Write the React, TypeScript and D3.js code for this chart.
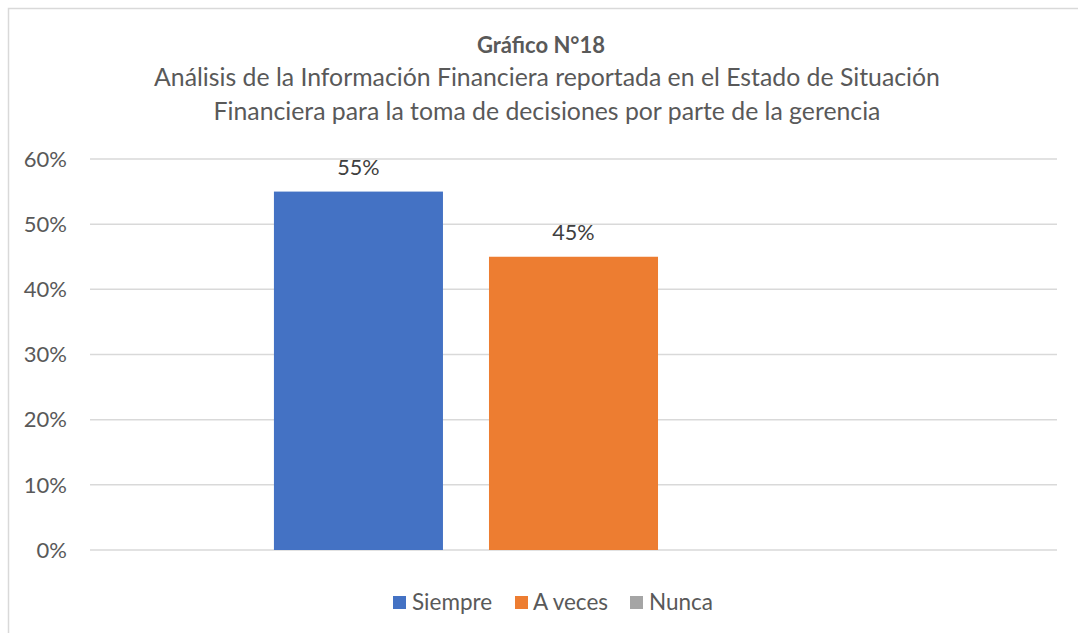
import React from "react";
import * as d3 from "d3";

const categories = [""];
const seriesNames = ["Siempre", "A veces", "Nunca"];
const seriesValues = [0.55, 0.45, 0];
const seriesColors = ["#4472C4", "#ED7D31", "#A5A5A5"];
const yTicks = [0, 0.1, 0.2, 0.3, 0.4, 0.5, 0.6];
const titleLines = ["Gráfico N°18"];
const subtitleLines = [
  "Análisis de la Información Financiera reportada en el Estado de Situación",
  "Financiera para la toma de decisiones por parte de la gerencia",
];

const W = 1078;
const H = 633;
const FONT = "Lato, 'Open Sans', sans-serif";

export default function App() {
  const left = 90;
  const right = 1057;
  const top = 159;
  const bottom = 550;

  const y = d3.scaleLinear().domain([0, 0.6]).range([bottom, top]);
  const x0 = d3.scaleBand().domain(categories).range([left, right]).paddingInner(0).paddingOuter(0.307);
  const x1 = d3.scaleBand().domain(seriesNames).range([0, x0.bandwidth()]).paddingInner(0.214).paddingOuter(0);
  const fmt = d3.format(".0%");

  const legendItems = [
    { name: seriesNames[0], sx: 393, tx: 412 },
    { name: seriesNames[1], sx: 515, tx: 533 },
    { name: seriesNames[2], sx: 630, tx: 649 },
  ];

  return (
    <svg
      width={W}
      height={H}
      style={{ position: "absolute", left: 0, top: 0, background: "#fff" }}
      fontFamily={FONT}
    >
      <rect x={8.5} y={8.5} width={1200} height={800} fill="#fff" stroke="#d9d9d9" strokeWidth={1.5} />
      {titleLines.map((t, i) => (
        <text key={t} x={541} y={53 + i * 34} textAnchor="middle" fontSize={22} fontWeight="bold" fill="#595959">
          {t}
        </text>
      ))}
      {subtitleLines.map((t, i) => (
        <text key={t} x={547} y={86 + i * 34} textAnchor="middle" fontSize={24.8} fill="#595959">
          {t}
        </text>
      ))}
      {yTicks.map((t) => (
        <g key={t}>
          <line x1={left} x2={right} y1={y(t)} y2={y(t)} stroke="#d9d9d9" strokeWidth={1.5} />
          <text x={67} y={y(t)} dy="0.35em" textAnchor="end" fontSize={22} fill="#595959">
            {fmt(t)}
          </text>
        </g>
      ))}
      {categories.map((c) => (
        <g key={c} transform={`translate(${x0(c)},0)`}>
          {seriesNames.map((s, i) => {
            const v = seriesValues[i];
            if (v <= 0) return null;
            const bx = x1(s)!;
            return (
              <g key={s}>
                <rect x={bx} y={y(v)} width={x1.bandwidth()} height={bottom - y(v)} fill={seriesColors[i]} />
                <text
                  x={bx + x1.bandwidth() / 2}
                  y={y(v) - 17}
                  textAnchor="middle"
                  fontSize={21.6}
                  fill="#404040"
                >
                  {fmt(v)}
                </text>
              </g>
            );
          })}
        </g>
      ))}
      {legendItems.map((l, i) => (
        <g key={l.name}>
          <rect x={l.sx} y={596} width={13} height={13} fill={seriesColors[i]} />
          <text x={l.tx} y={602.5} dy="0.35em" fontSize={22.5} fill="#595959">
            {l.name}
          </text>
        </g>
      ))}
    </svg>
  );
}
